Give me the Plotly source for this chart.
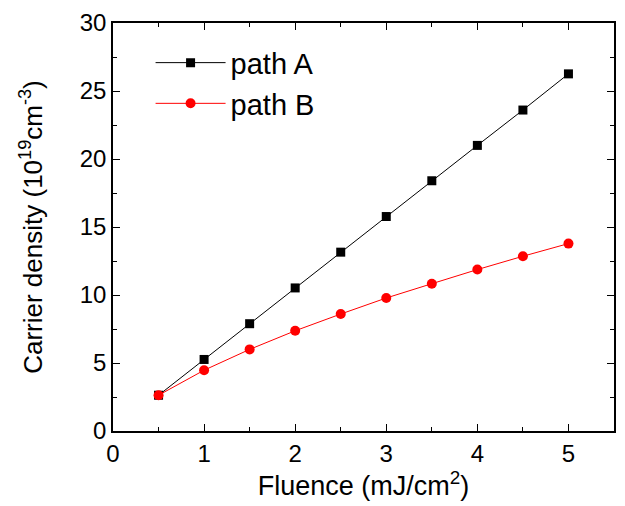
import plotly.graph_objects as go

fluence = [0.5, 1.0, 1.5, 2.0, 2.5, 3.0, 3.5, 4.0, 4.5, 5.0]
path_a = [2.63, 5.26, 7.89, 10.52, 13.15, 15.77, 18.40, 21.0, 23.6, 26.26]
path_b = [2.63, 4.47, 6.0, 7.37, 8.6, 9.78, 10.83, 11.87, 12.85, 13.78]
x_ticks = [0, 1, 2, 3, 4, 5]
y_ticks = [0, 5, 10, 15, 20, 25, 30]

FONT = "Liberation Sans, Arial, sans-serif"

fig = go.Figure()
fig.add_trace(go.Scatter(x=fluence, y=path_a, mode="lines+markers", name="path A",
                         line=dict(color="black", width=1),
                         marker=dict(symbol="square", size=9, color="black")))
fig.add_trace(go.Scatter(x=fluence, y=path_b, mode="lines+markers", name="path B",
                         line=dict(color="red", width=1),
                         marker=dict(symbol="circle", size=10, color="red")))

axis_common = dict(showline=True, linecolor="black", linewidth=1.5, mirror="allticks",
                   ticks="inside", ticklen=7, tickwidth=1.2, tickcolor="black",
                   showgrid=False, zeroline=False,
                   tickfont=dict(family=FONT, size=24, color="black"),
                   minor=dict(ticks="inside", ticklen=4, tickwidth=1, tickcolor="black", showgrid=False))

fig.update_xaxes(range=[0, 5.5], tickvals=x_ticks,
                 title=dict(text="Fluence (mJ/cm<sup>2</sup>)", font=dict(family=FONT, size=27, color="black"), standoff=10),
                 **axis_common)
fig.update_yaxes(range=[0, 30], tickvals=y_ticks,
                 title=dict(text="Carrier density (10<sup>19</sup>cm<sup>-3</sup>)", font=dict(family=FONT, size=26, color="black"), standoff=30),
                 **axis_common)
fig.update_xaxes(minor=dict(dtick=0.5, tick0=0))
fig.update_yaxes(minor=dict(dtick=2.5, tick0=0))

fig.update_layout(width=625, height=506,
                  margin=dict(l=113, r=9, t=23, b=75),
                  plot_bgcolor="white", paper_bgcolor="white",
                  legend=dict(x=0.075, y=0.965, xanchor="left", yanchor="top",
                              font=dict(family=FONT, size=29, color="black"),
                              bgcolor="rgba(0,0,0,0)", itemwidth=70, tracegroupgap=0),
                  showlegend=True)

fig.write_html("out.html")
